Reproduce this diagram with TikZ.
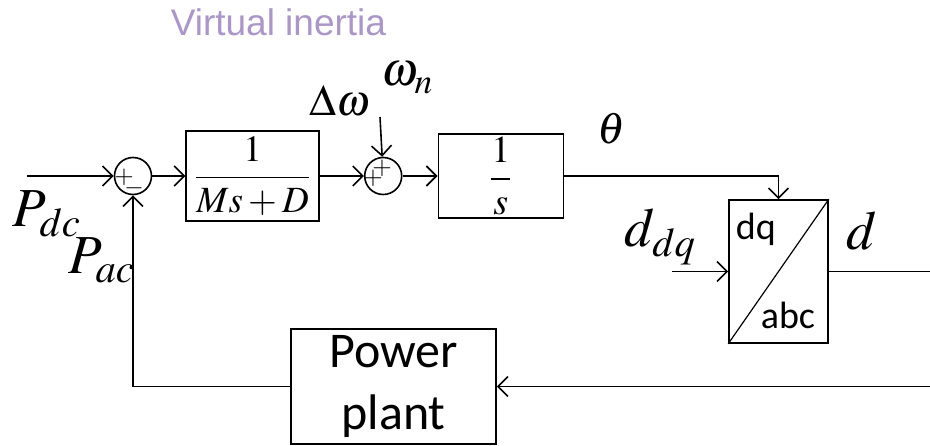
\documentclass[tikz,border=0pt]{standalone}
\usepackage{mathptmx}
\usepackage[no-math]{fontspec}
\newfontfamily\calibrifont{Carlito}
\newfontfamily\arialfont{Liberation Sans}
\usetikzlibrary{positioning,arrows.meta}
\definecolor{InertiaLilac}{RGB}{170,150,200}

\begin{document}
\begin{tikzpicture}[x=1pt,y=-1pt,line width=1.6pt,
	>={Straight Barb[length=10pt,width=20pt]},
	sumnode/.style={draw,circle,minimum size=37pt,inner sep=0pt},
	tfblock/.style={draw,rectangle,inner sep=0pt},
	signmark/.style={inner sep=0pt,font=\fontsize{25}{25}\selectfont},
	biglabel/.style={inner sep=0pt,anchor=base west,font=\fontsize{55}{55}\selectfont},
	midlabel/.style={inner sep=0pt,font=\fontsize{44}{44}\selectfont},
	sanstext/.style={inner sep=0pt,anchor=base west,font=\calibrifont\fontsize{38}{38}\selectfont}]
				
				\useasboundingbox (0,0) rectangle (930,446);
				
				\node[inner sep=0pt,anchor=base west,
				font=\arialfont\fontsize{37}{37}\selectfont,text=InertiaLilac]
				(title) at (170,36) {Virtual inertia};
				
				% forward path
				\node[sumnode] (sum1) at (133,176) {};
				
				\node[
				tfblock,
				minimum width=133pt,
				minimum height=90pt,
				font=\fontsize{37}{37}\selectfont,
				right=33pt of sum1
				]
				(blk1)
				{$\displaystyle\frac{1}{Ms+D}$};
				
				\node[sumnode,right=44pt of blk1] (sum2) {};
				
				\node[
				tfblock,
				minimum width=125pt,
				minimum height=84pt,
				font=\fontsize{38}{38}\selectfont,
				right=35pt of sum2
				]
				(blk2)
				{$\displaystyle\frac{1}{s}$};
				
				\node[
				tfblock,
				minimum width=99pt,
				minimum height=143pt
				]
				(conv) at (778.5,271.5) {};
				
				\node[
				tfblock,
				minimum width=205pt,
				minimum height=115pt,
				align=center,
				font=\calibrifont\fontsize{50}{62}\selectfont
				]
				(plant) at (393.5,386.5) {Power\\plant};
				
				% signs
				\node[signmark] (s1plus) at ([xshift=-9pt,yshift=-1pt]sum1.center) {$+$};
				\node[signmark] (s1minus) at ([xshift=1pt,yshift=-12pt]sum1.center) {$-$};
				\node[signmark] (s2plus) at ([xshift=-10pt,yshift=-2pt]sum2.center) {$+$};
				\node[signmark] (s2top) at ([xshift=-1pt,yshift=8pt]sum2.center) {$+$};
				
				% converter
				\draw[line width=1.2pt] (conv.south west) -- (conv.north east);
				\node[sanstext] (dqtext) at (735,240) {dq};
				\node[sanstext] (abctext) at (760,329) {abc};
				
				% labels
				\node[biglabel] (pdclabel) at (12,227) {$P_{dc}$};
				\node[biglabel] (paclabel) at (68,274) {$P_{ac}$};
				\node[midlabel,anchor=base west] (dwlabel) at (309,116) {$\Delta\omega$};
				\node[midlabel,anchor=base west,font=\fontsize{48}{48}\selectfont] (wnlabel) at (381,86) {$\omega_{\scriptstyle n}$};
				\node[midlabel] (thetalabel) at (611,129) {$\theta$};
				\node[biglabel] (ddqlabel) at (624,247) {$d_{dq}$};
				\node[biglabel] (dlabel) at (846,250) {$d$};
				
				\coordinate (pdcin) at (27,176);
				\coordinate (wnin) at (380,117);
				\coordinate (ddqin) at (672,271.5);
				\coordinate (dout) at (930,271.5);
				\coordinate (fbin) at (930,386.5);
				
				\draw[->] (pdcin) -- (sum1);
				\draw[->] (sum1) -- (blk1);
				\draw[->] (blk1) -- (sum2);
				\draw[->] (wnin) -- (sum2);
				\draw[->] (sum2) -- (blk2);
				\draw[->] (blk2) -| (conv);
				\draw[->] (ddqin) -- (conv);
				\draw (conv) -- (dout);
				\draw[->] (fbin) -- (plant);
				\draw[->] (plant) -| (sum1);
				
			\end{tikzpicture}
\end{document}
